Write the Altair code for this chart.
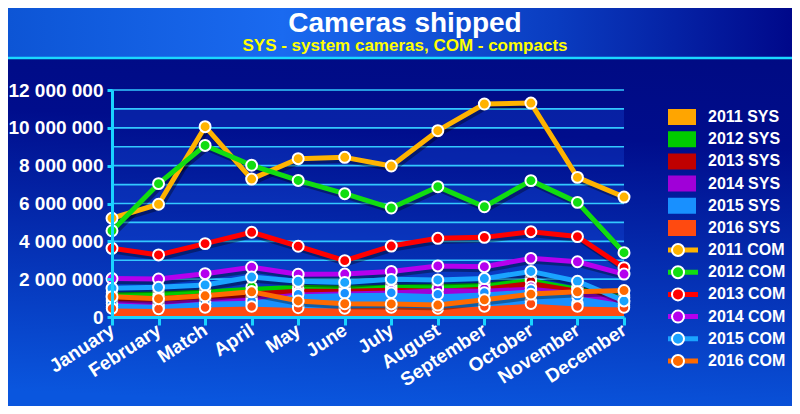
import altair as alt
import pandas as pd

FONT = "Liberation Sans"

months = ["January", "February", "Match", "April", "May", "June",
          "July", "August", "September", "October", "November", "December"]
years = ["2011", "2012", "2013", "2014", "2015", "2016"]

# values in millions of units
sys_2011 = [0.55, 0.50, 0.65, 0.70, 0.60, 0.55, 0.55, 0.50, 0.70, 0.85, 0.72, 0.60]
sys_2012 = [1.30, 1.35, 1.45, 1.60, 1.70, 1.65, 1.70, 1.75, 1.80, 2.05, 1.60, 1.15]
sys_2013 = [1.15, 1.10, 1.25, 1.35, 1.50, 1.50, 1.55, 1.50, 1.60, 1.90, 1.50, 1.05]
sys_2014 = [0.85, 0.80, 0.95, 1.05, 1.30, 1.35, 1.40, 1.52, 1.50, 1.60, 1.35, 1.00]
sys_2015 = [0.72, 0.63, 0.81, 0.86, 1.20, 1.25, 1.28, 1.20, 1.30, 1.45, 1.10, 0.72]
sys_2016 = [0.45, 0.42, 0.50, 0.55, 0.48, 0.45, 0.50, 0.45, 0.55, 0.70, 0.55, 0.50]

com_2011 = [5.22, 5.96, 10.06, 7.29, 8.37, 8.44, 7.98, 9.85, 11.26, 11.31, 7.38, 6.34]
com_2012 = [4.56, 7.05, 9.07, 8.02, 7.22, 6.52, 5.76, 6.89, 5.83, 7.21, 6.06, 3.40]
com_2013 = [3.63, 3.28, 3.88, 4.48, 3.74, 2.98, 3.75, 4.16, 4.21, 4.51, 4.25, 2.61]
com_2014 = [2.03, 2.01, 2.29, 2.63, 2.26, 2.27, 2.41, 2.70, 2.66, 3.10, 2.92, 2.27]
com_2015 = [1.52, 1.57, 1.69, 2.11, 1.89, 1.83, 1.99, 1.96, 2.03, 2.41, 1.89, 0.85]
com_2016 = [1.07, 0.97, 1.12, 1.33, 0.85, 0.70, 0.69, 0.63, 0.91, 1.21, 1.33, 1.40]

sys_colors = ["#ffa500", "#00cc00", "#c00000", "#a000d8", "#1890ff", "#ff4a10"]
com_colors = ["#ffb300", "#11dd11", "#ff0000", "#b400ee", "#1aa3ff", "#ff6a00"]

y_labels = [0, 2, 4, 6, 8, 10, 12]
grid_values = [1, 2, 3, 4, 5, 6, 7, 8, 9, 10, 11, 12]
band_lo = [0, 2, 4, 6, 8, 10]
band_hi = [1, 3, 5, 7, 9, 11]

sys_names = [y + " SYS" for y in years]
com_names = [y + " COM" for y in years]
sys_series = [sys_2011, sys_2012, sys_2013, sys_2014, sys_2015, sys_2016]
com_series = [com_2011, com_2012, com_2013, com_2014, com_2015, com_2016]


def long_table(names, series, key):
    rows = []
    for n, vals in zip(names, series):
        for m, v in zip(months, vals):
            rows.append({"month": m, key: n, "value": v * 1e6})
    return pd.DataFrame(rows)


sys_df = long_table(sys_names, sys_series, "series")
com_df = long_table(com_names, com_series, "series")
com_pt_df = com_df.rename(columns={"series": "series_pt"})
grid_df = pd.DataFrame({"v": [g * 1e6 for g in grid_values]})
band_df = pd.DataFrame({"lo": [b * 1e6 for b in band_lo], "hi": [b * 1e6 for b in band_hi]})
one = pd.DataFrame({"a": [0]})

CYAN = "#19d3ff"

x_axis = alt.Axis(title=None, labelAngle=-33, labelAlign="right", labelBaseline="middle",
                  labelFont=FONT, labelFontSize=19, labelFontWeight="bold", labelColor="white",
                  labelPadding=3, domainColor=CYAN, domainWidth=3, tickColor=CYAN,
                  tickWidth=3, tickSize=8, grid=False, zindex=1, labelOverlap=False)
y_axis = alt.Axis(title=None, values=[v * 1e6 for v in y_labels],
                  labelExpr="join(split(format(datum.value, ','), ','), ' ')",
                  labelFont=FONT, labelFontSize=19, labelFontWeight="bold", labelColor="white",
                  labelPadding=4, domainColor=CYAN, domainWidth=3, tickColor=CYAN,
                  tickWidth=3, tickSize=5, grid=False, zindex=1)

x_scale = alt.Scale(type="point", padding=0)
y_scale = alt.Scale(domain=[0, 12e6], nice=False, zero=True)

X = alt.X("month:N", sort=months, scale=x_scale, axis=x_axis)
Y = alt.Y("value:Q", scale=y_scale, axis=y_axis, stack=None)

body = alt.Chart(one).mark_rect(
    color=alt.LinearGradient(
        gradient="linear",
        stops=[alt.GradientStop(offset=0, color="#000a80"),
               alt.GradientStop(offset=0.3, color="#000d8c"),
               alt.GradientStop(offset=1, color="#0a56de")],
        x1=0.5, y1=0, x2=0.4, y2=1)
).encode(x=alt.value(-104), x2=alt.value(680), y=alt.value(-82), y2=alt.value(316))

head = alt.Chart(one).mark_rect(
    color=alt.LinearGradient(
        gradient="linear",
        stops=[alt.GradientStop(offset=0, color="#0d55d5"),
               alt.GradientStop(offset=0.35, color="#1a6af0"),
               alt.GradientStop(offset=0.7, color="#0a3cc0"),
               alt.GradientStop(offset=1, color="#00088a")],
        x1=0, y1=0, x2=1, y2=0)
).encode(x=alt.value(-104), x2=alt.value(680), y=alt.value(-82), y2=alt.value(-32))

sep = alt.Chart(one).mark_rule(color="#1ad8ff", strokeWidth=2.5).encode(
    x=alt.value(-104), x2=alt.value(680), y=alt.value(-32))

bands = alt.Chart(band_df).mark_rect(color="#1850e0", opacity=0.3).encode(
    y=alt.Y("lo:Q", scale=y_scale, axis=y_axis), y2="hi:Q")

grid = alt.Chart(grid_df).mark_rule(color="#33c8ff", strokeWidth=1.6).encode(
    y=alt.Y("v:Q", scale=y_scale, axis=y_axis))

sys_fill = alt.Scale(domain=sys_names, range=sys_colors)
com_scale = alt.Scale(domain=com_names, range=com_colors)

LEG = dict(title=None, orient="none", legendX=556, padding=0, rowPadding=2.2, clipHeight=20,
           labelOffset=20, labelFont=FONT, labelFontSize=16, labelFontWeight="bold",
           labelColor="white", symbolOpacity=1)

areas = alt.Chart(sys_df).mark_area(opacity=1).encode(
    x=X, y=Y,
    fill=alt.Fill("series:N", scale=sys_fill, sort=sys_names,
                  legend=alt.Legend(legendY=17, symbolType="M-1.8,-0.8H1.8V0.8H-1.8Z",
                                    symbolSize=400, symbolStrokeWidth=0, **LEG)),
    order=alt.Order("series:N"))

sys_pts = alt.Chart(sys_df).mark_circle(size=110, stroke="white", strokeWidth=2, opacity=1).encode(
    x=X, y=Y, fill=alt.Fill("series:N", scale=sys_fill, legend=None))

shadow = alt.Chart(com_df).mark_line(color="black", opacity=0.35, strokeWidth=5,
                                     xOffset=2, yOffset=3, strokeJoin="round").encode(
    x=X, y=Y, detail="series:N")

lines = alt.Chart(com_df).mark_line(strokeWidth=5, strokeJoin="round", strokeCap="round").encode(
    x=X, y=Y,
    stroke=alt.Stroke("series:N", scale=com_scale, sort=com_names,
                      legend=alt.Legend(legendY=150, symbolType="M-2.667,0H2.667",
                                        symbolSize=225, symbolStrokeWidth=5, **LEG)))

com_pts = alt.Chart(com_pt_df).mark_circle(size=120, stroke="white", strokeWidth=2, opacity=1).encode(
    x=X, y=Y,
    fill=alt.Fill("series_pt:N", scale=com_scale, sort=com_names,
                  legend=alt.Legend(legendY=150,
                                    symbolType="M-0.667,0A0.667,0.667,0,1,0,0.667,0A0.667,0.667,0,1,0,-0.667,0Z",
                                    symbolSize=324, symbolStrokeColor="white", symbolStrokeWidth=2,
                                    labelExpr="''", **LEG)))

chart = alt.layer(body, head, sep, bands, grid, areas, sys_pts, shadow, lines, com_pts).resolve_scale(
    fill="independent", stroke="independent"
).properties(
    width=512, height=227,
    autosize=alt.AutoSizeParams(type="none"),
    padding={"left": 104, "top": 82, "right": 168, "bottom": 89},
    background="#000a80",
    title=alt.TitleParams(text="Cameras shipped", subtitle="SYS - system cameras, COM - compacts",
                          anchor="middle", frame="group", dx=37, offset=-46,
                          color="white", font=FONT, fontSize=28, fontWeight="bold",
                          subtitleColor="#ffff00", subtitleFont=FONT, subtitleFontSize=17,
                          subtitleFontWeight="bold", subtitlePadding=0)
).configure_view(stroke=None)

chart.save("out.html", embed_options={"renderer": "svg", "actions": False})
